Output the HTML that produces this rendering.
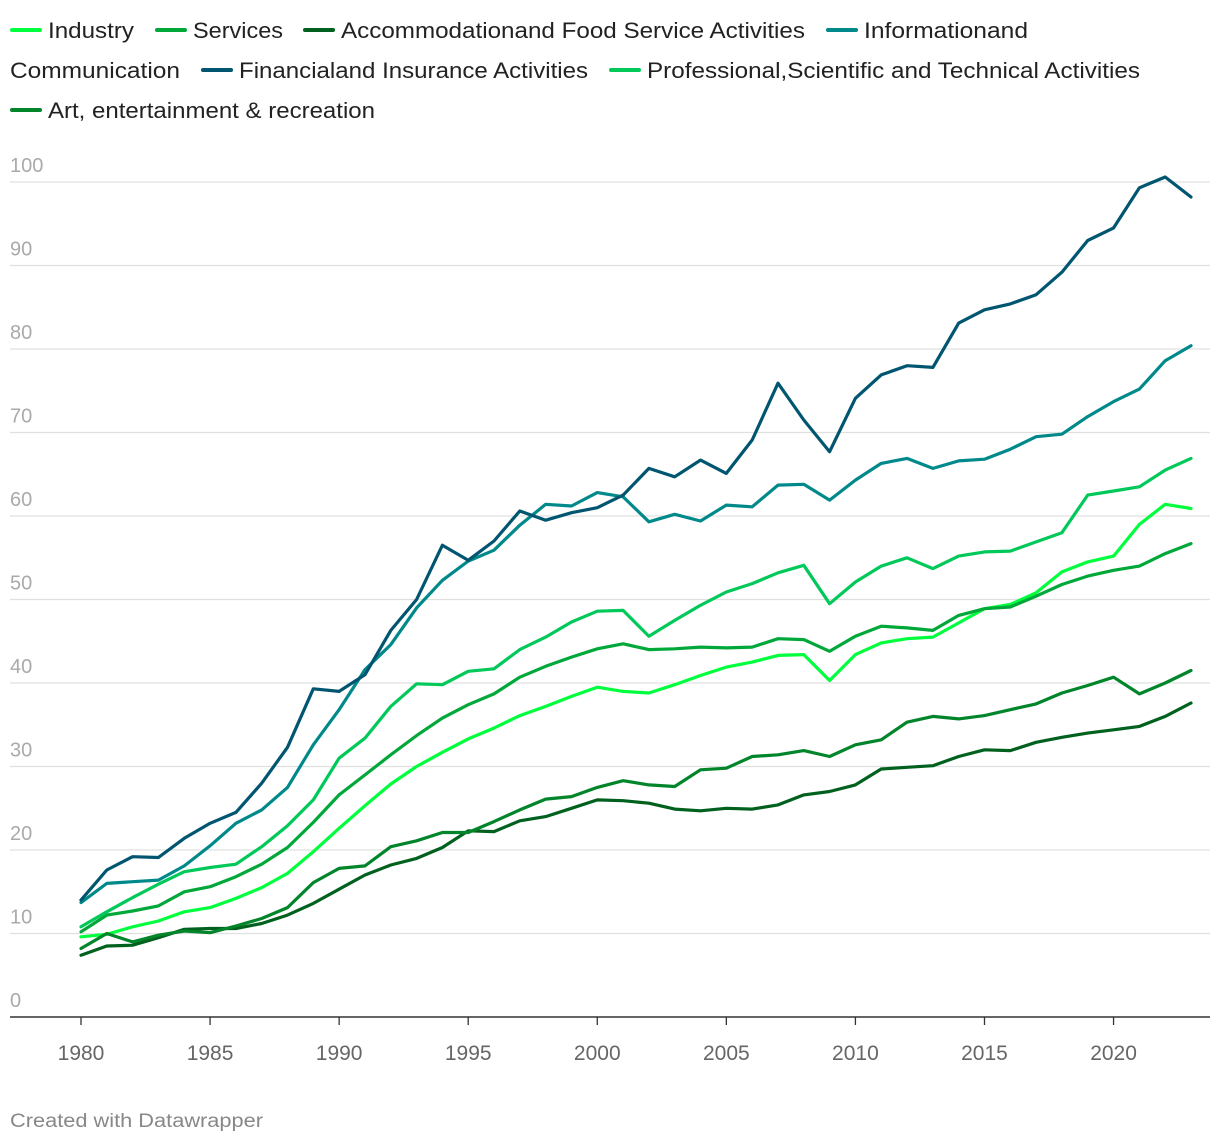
<!DOCTYPE html>
<html><head><meta charset="utf-8"><style>
body{margin:0;background:#fff;font-family:"Liberation Sans",sans-serif}
svg{display:block}
</style></head><body>
<svg id="chart" width="1220" height="1144" font-family="Liberation Sans, sans-serif"></svg>
<script>
const years=[];for(let y=1980;y<=2023;y++)years.push(y);
const seriesNames=["Industry","Services","Accommodationand Food Service Activities","Informationand Communication","Financialand Insurance Activities","Professional,Scientific and Technical Activities","Art, entertainment & recreation"];
const industry=[9.6,9.9,10.8,11.5,12.6,13.1,14.2,15.5,17.2,19.8,22.6,25.3,27.9,30.0,31.7,33.3,34.6,36.1,37.2,38.4,39.5,39.0,38.8,39.8,40.9,41.9,42.5,43.3,43.4,40.3,43.4,44.8,45.3,45.5,47.2,48.9,49.4,50.8,53.3,54.5,55.2,59.0,61.4,60.9];
const services=[10.2,12.2,12.7,13.3,15.0,15.6,16.8,18.3,20.3,23.3,26.6,29.0,31.4,33.7,35.8,37.4,38.7,40.7,42.0,43.1,44.1,44.7,44.0,44.1,44.3,44.2,44.3,45.3,45.2,43.8,45.6,46.8,46.6,46.3,48.1,48.9,49.1,50.4,51.8,52.8,53.5,54.0,55.5,56.7];
const accommodation=[7.4,8.5,8.6,9.5,10.5,10.6,10.6,11.2,12.2,13.6,15.3,17.0,18.2,19.0,20.3,22.3,22.2,23.5,24.0,25.0,26.0,25.9,25.6,24.9,24.7,25.0,24.9,25.4,26.6,27.0,27.8,29.7,29.9,30.1,31.2,32.0,31.9,32.9,33.5,34.0,34.4,34.8,36.0,37.6];
const information=[13.7,16.0,16.2,16.4,18.1,20.5,23.2,24.8,27.5,32.6,36.8,41.6,44.6,49.0,52.3,54.6,55.9,58.9,61.4,61.2,62.8,62.3,59.3,60.2,59.4,61.3,61.1,63.7,63.8,61.9,64.3,66.3,66.9,65.7,66.6,66.8,68.0,69.5,69.8,71.9,73.7,75.2,78.6,80.4];
const financial=[14.0,17.6,19.2,19.1,21.4,23.2,24.5,28.0,32.3,39.3,39.0,41.0,46.3,50.0,56.5,54.7,57.0,60.6,59.5,60.4,61.0,62.5,65.7,64.7,66.7,65.1,69.1,75.9,71.5,67.7,74.1,76.9,78.0,77.8,83.1,84.7,85.4,86.5,89.2,93.0,94.5,99.3,100.6,98.2];
const professional=[10.8,12.6,14.3,15.9,17.4,17.9,18.3,20.4,22.9,26.0,31.0,33.4,37.2,39.9,39.8,41.4,41.7,44.0,45.5,47.3,48.6,48.7,45.6,47.5,49.3,50.9,51.9,53.2,54.1,49.5,52.1,54.0,55.0,53.7,55.2,55.7,55.8,56.9,58.0,62.5,63.0,63.5,65.5,66.9];
const art=[8.2,10.0,9.0,9.8,10.3,10.1,10.9,11.8,13.1,16.1,17.8,18.1,20.4,21.1,22.1,22.1,23.4,24.8,26.1,26.4,27.5,28.3,27.8,27.6,29.6,29.8,31.2,31.4,31.9,31.2,32.6,33.2,35.3,36.0,35.7,36.1,36.8,37.5,38.8,39.7,40.7,38.7,40.0,41.5];
const yTicks=[0,10,20,30,40,50,60,70,80,90,100];
const xTicks=[1980,1985,1990,1995,2000,2005,2010,2015,2020];

const colors=["#00ff3c","#00a83a","#00611e","#00898a","#005570","#00c95a","#00852a"];
const allSeries=[industry,services,accommodation,information,financial,professional,art];
const NS="http://www.w3.org/2000/svg";
const svg=document.getElementById('chart');
const X=y=>81+(y-1980)*(1191-81)/43;
const Y=v=>1017-v*8.35;
function mk(t,a,p){const e=document.createElementNS(NS,t);for(const k in a)e.setAttribute(k,a[k]);(p||svg).appendChild(e);return e;}

yTicks.forEach(t=>{
  if(t>0){const g=mk('line',{x1:10,x2:1210,y1:Y(t),y2:Y(t),stroke:'#e0e0e0','stroke-width':1.3});
  
  }
  const tx=mk('text',{x:10,y:Y(t)-10,'font-size':20,fill:'#aaaaaa'});tx.textContent=t;
  
  
});
const ax=mk('line',{x1:10,x2:1210,y1:1017,y2:1017,stroke:'#333','stroke-width':1.5});


xTicks.forEach(t=>{
  const tk=mk('line',{x1:X(t),x2:X(t),y1:1017,y2:1025,stroke:'#333','stroke-width':1.3});
  
  
  const tx=mk('text',{x:X(t),y:1060,'font-size':21,fill:'#666','text-anchor':'middle'});tx.textContent=t;
  
  
});
allSeries.forEach((s,i)=>{
  const d=s.map((v,j)=>(j?'L':'M')+X(years[j]).toFixed(1)+','+Y(v).toFixed(1)).join('');
  const p=mk('path',{d:d,fill:'none',stroke:colors[i],'stroke-width':3.2,'stroke-linejoin':'round','stroke-linecap':'round'});
  
  
});
// legend
const legendPos=[[12,38],[157,38],[305,38],[828,38],[203,78],[611,78],[12,118]];
const legendWidths=[86,90,464,164,349,493,327];
seriesNames.forEach((n,i)=>{
  const [lx,ly]=legendPos[i];
  const g=mk('g',{});
  
  
  mk('line',{x1:lx,x2:lx+28,y1:ly-8,y2:ly-8,stroke:colors[i],'stroke-width':4,'stroke-linecap':'round'},g);
  const t=mk('text',{x:lx+36,y:ly,'font-size':22,fill:'#222',textLength:legendWidths[i],lengthAdjust:'spacingAndGlyphs'},g);
  t.textContent=(i===3)?'Informationand':n;
});
const c=mk('text',{x:10,y:78,'font-size':22,fill:'#222',textLength:170,lengthAdjust:'spacingAndGlyphs'});c.textContent='Communication';


const f=mk('text',{x:10,y:1127,'font-size':19,fill:'#888',textLength:253,lengthAdjust:'spacingAndGlyphs'});f.textContent='Created with Datawrapper';


</script>
</body></html>
